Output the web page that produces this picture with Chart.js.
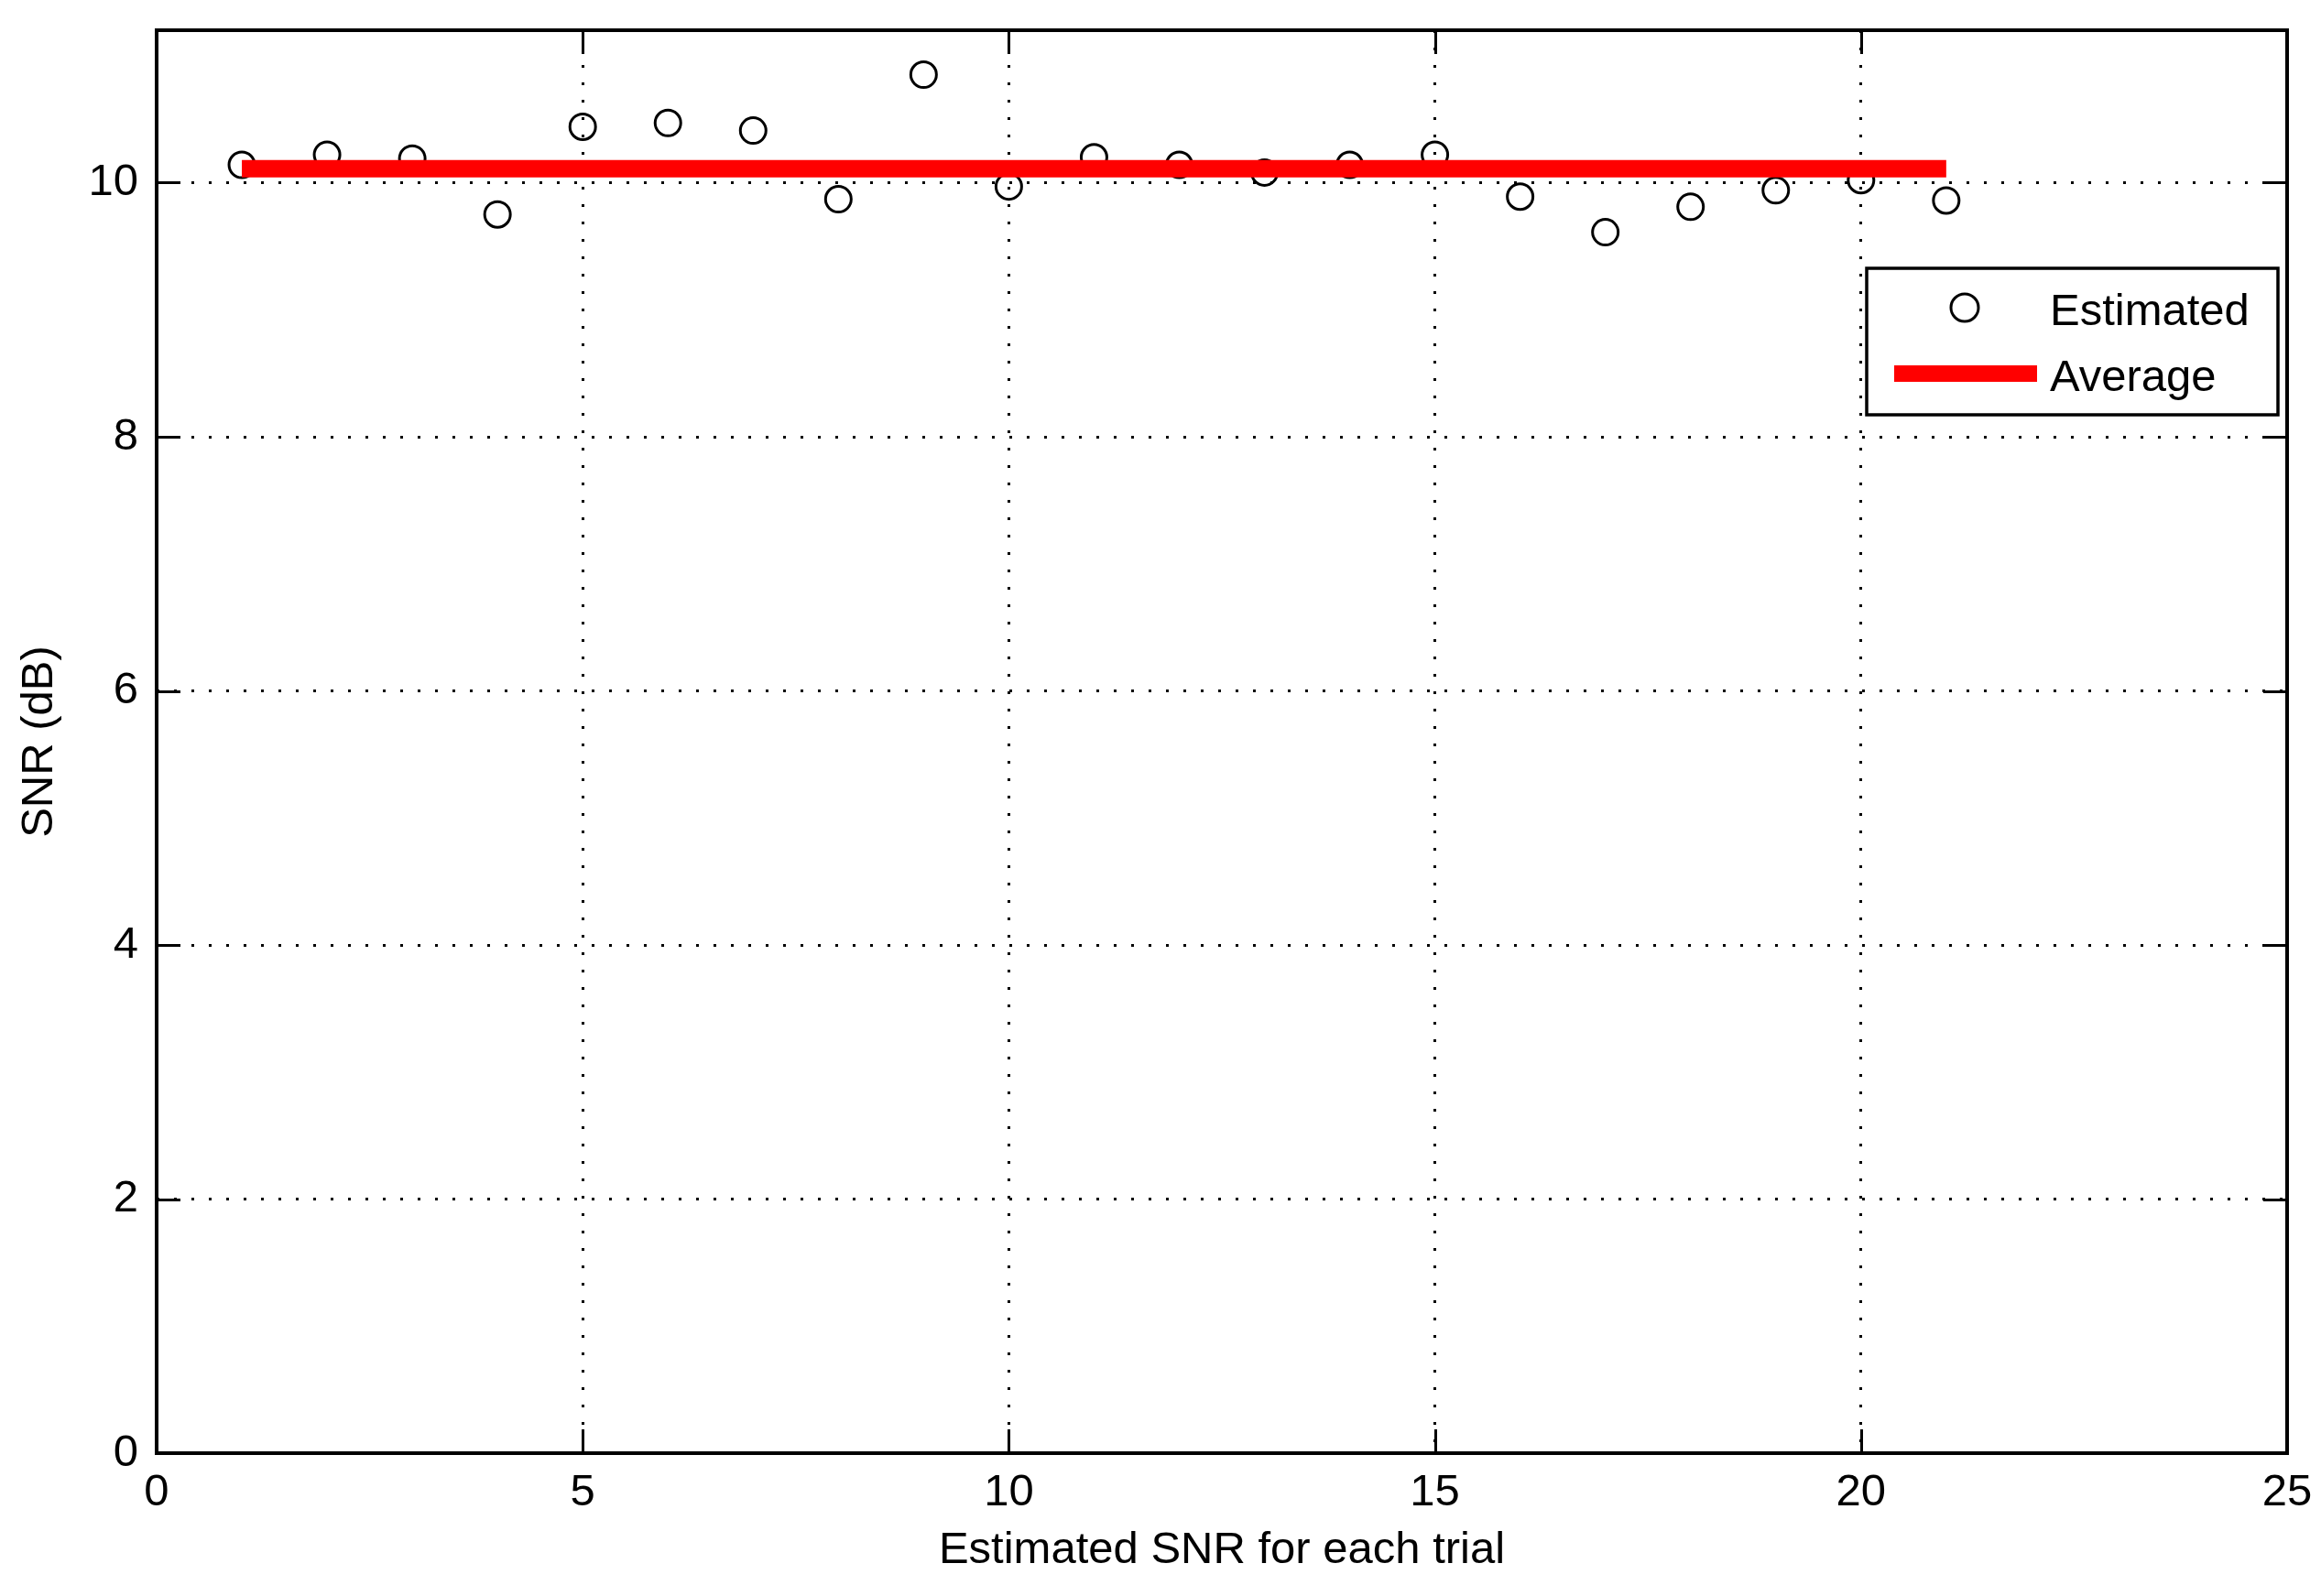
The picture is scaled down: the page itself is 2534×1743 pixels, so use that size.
<!DOCTYPE html>
<html>
<head>
<meta charset="utf-8">
<title>Estimated SNR</title>
<script src="https://cdn.jsdelivr.net/npm/chart.js@4.4.1/dist/chart.umd.min.js"></script>
<style>
  html, body { margin: 0; padding: 0; background: #fff; }
  #wrap { width: 2534px; height: 1743px; }
</style>
</head>
<body>
<div id="wrap"><canvas id="snrChart" width="2534" height="1743"></canvas></div>
<script>
// valori
const trials = [1, 2, 3, 4, 5, 6, 7, 8, 9, 10, 11, 12, 13, 14, 15, 16, 17, 18, 19, 20, 21];
const snrEstimated = [10.14, 10.22, 10.19, 9.75, 10.44, 10.47, 10.41, 9.87, 10.85, 9.97, 10.20,
  10.14, 10.08, 10.14, 10.22, 9.89, 9.61, 9.81, 9.94, 10.02, 9.86];
const averageX = [1, 21];
const averageY = [10.11, 10.11];
const xTicks = [0, 5, 10, 15, 20, 25];
const yTicks = [0, 2, 4, 6, 8, 10];

const FONT = { family: '"Liberation Sans", Arial, sans-serif', size: 49 };
Chart.defaults.color = '#000';
Chart.defaults.font = FONT;

// box degli assi + tacche verso l'interno (stile MATLAB) + legenda
const matlabFrame = {
  id: 'matlabFrame',
  afterDraw(chart) {
    const { ctx, chartArea: a, scales: { x, y } } = chart;
    ctx.save();
    ctx.strokeStyle = '#000';
    ctx.lineWidth = 3;
    ctx.beginPath();
    xTicks.forEach(v => {
      const px = Math.round(x.getPixelForValue(v)) + 0.5;
      ctx.moveTo(px, a.bottom); ctx.lineTo(px, a.bottom - 26);
      ctx.moveTo(px, a.top); ctx.lineTo(px, a.top + 26);
    });
    yTicks.forEach(v => {
      const py = Math.round(y.getPixelForValue(v)) + 0.5;
      ctx.moveTo(a.left, py); ctx.lineTo(a.left + 26, py);
      ctx.moveTo(a.right, py); ctx.lineTo(a.right - 26, py);
    });
    ctx.stroke();
    ctx.lineWidth = 4;
    ctx.strokeRect(a.left, a.top, a.right - a.left, a.bottom - a.top);

    // legenda
    const lx = a.right - 459, ly = a.top + 260, lw = 449, lh = 160;
    ctx.fillStyle = '#fff';
    ctx.fillRect(lx, ly, lw, lh);
    ctx.lineWidth = 3.5;
    ctx.strokeRect(lx, ly, lw, lh);
    const est = chart.data.datasets[0], avg = chart.data.datasets[1];
    ctx.lineWidth = 3;
    ctx.beginPath();
    ctx.arc(lx + 107, ly + 43, 15, 0, Math.PI * 2);
    ctx.stroke();
    ctx.strokeStyle = avg.borderColor;
    ctx.lineWidth = 18;
    ctx.beginPath();
    ctx.moveTo(lx + 30, ly + 115); ctx.lineTo(lx + 186, ly + 115);
    ctx.stroke();
    ctx.fillStyle = '#000';
    ctx.font = `${FONT.size}px ${FONT.family}`;
    ctx.textBaseline = 'alphabetic';
    ctx.fillText(est.label, lx + 200, ly + 62);
    ctx.fillText(avg.label, lx + 200, ly + 134);
    ctx.restore();
  }
};

const gridDots = { color: '#000', lineWidth: 3, drawTicks: false };
const borderDots = { display: false, dash: [3, 16] };

new Chart(document.getElementById('snrChart'), {
  type: 'scatter',
  data: {
    datasets: [
      {
        label: 'Estimated',
        data: trials.map((t, i) => ({ x: t, y: snrEstimated[i] })),
        showLine: false,
        pointStyle: 'circle',
        pointRadius: 14,
        pointHoverRadius: 14,
        pointBorderWidth: 3,
        pointBackgroundColor: 'rgba(0,0,0,0)',
        pointBorderColor: '#000',
        order: 1
      },
      {
        label: 'Average',
        data: averageX.map((t, i) => ({ x: t, y: averageY[i] })),
        showLine: true,
        borderColor: '#ff0000',
        borderWidth: 19,
        borderCapStyle: 'butt',
        pointRadius: 0,
        order: 0
      }
    ]
  },
  options: {
    responsive: false,
    animation: false,
    devicePixelRatio: 1,
    layout: { padding: { top: 33, right: 37, left: 0, bottom: 0 } },
    plugins: { legend: { display: false }, tooltip: { enabled: false } },
    scales: {
      x: {
        type: 'linear', min: 0, max: 25,
        grid: gridDots, border: borderDots,
        afterBuildTicks: s => { s.ticks = xTicks.map(v => ({ value: v })); },
        afterFit: s => { s.height = 156; s.paddingLeft = 0; s.paddingRight = 0; },
        ticks: { padding: 14, font: FONT },
        title: { display: true, text: 'Estimated SNR for each trial', font: FONT, padding: { top: 0, bottom: 20 } }
      },
      y: {
        type: 'linear', min: 0, max: 11.2,
        grid: gridDots, border: borderDots,
        afterBuildTicks: s => { s.ticks = yTicks.map(v => ({ value: v })); },
        afterFit: s => { s.width = 171; s.paddingTop = 0; s.paddingBottom = 0; },
        ticks: { padding: 20, font: FONT },
        title: { display: true, text: 'SNR (dB)', font: FONT, padding: { top: 14, bottom: 0 } }
      }
    }
  },
  plugins: [matlabFrame]
});
</script>
</body>
</html>
